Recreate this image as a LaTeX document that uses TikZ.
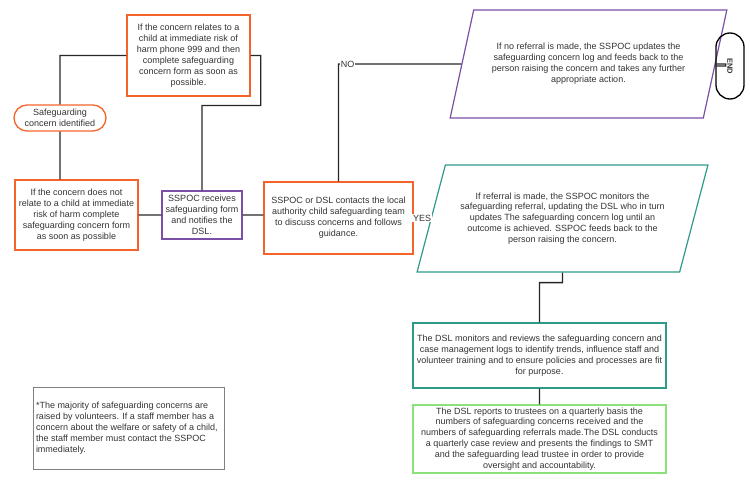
\documentclass[tikz,border=0pt]{standalone}
\usepackage{fontspec}
\setmainfont{Liberation Sans}
\usetikzlibrary{shapes.geometric}
\definecolor{boxorange}{HTML}{F4642A}
\definecolor{boxpurple}{HTML}{7B4FA6}
\definecolor{boxteal}{HTML}{2E9A88}
\definecolor{boxgreen}{HTML}{8BE27A}
\definecolor{txtgray}{HTML}{333333}
\hyphenpenalty=10000
\exhyphenpenalty=10000
\begin{document}
\begin{tikzpicture}
  [x=1pt,y=-1pt,
   every node/.style={font=\fontsize{9}{10.9}\selectfont,text=txtgray,align=flush center,inner xsep=2pt,inner ysep=1pt},
   orangebox/.style={draw=boxorange,line width=1.3pt,rectangle},
   purplebox/.style={draw=boxpurple,line width=1.2pt,rectangle},
   tealbox/.style={draw=boxteal,line width=1.2pt,rectangle},
   greenbox/.style={draw=boxgreen,line width=1.2pt,rectangle},
   notebox/.style={draw=gray,line width=0.8pt,rectangle,align=flush left},
   slantbox/.style={trapezium,trapezium left angle=64,trapezium right angle=116,
     trapezium stretches=true,line width=1.2pt},
   link/.style={draw=black!85,line width=1.3pt},
   tag/.style={fill=white,inner sep=1pt}]
\useasboundingbox (0,0) rectangle (750,492);
% left part
\node (phone)[orangebox,minimum width=123pt,minimum height=81pt,text width=117pt] at (188.5,55.5)
  {If the concern relates to a child at immediate risk of harm phone 999 and then complete safeguarding concern form as soon as possible.};
\node (ident)[draw=boxorange,line width=1.3pt,rounded corners=13pt,minimum width=92pt,minimum height=26pt,text width=80pt] at (60,118)
  {Safeguarding concern identified};
\node (notphone)[orangebox,minimum width=123pt,minimum height=70pt,text width=115.8pt] at (76.5,215)
  {If the concern does not relate to a child at immediate risk of harm complete safeguarding concern form as soon as possible};
\node (recv)[purplebox,minimum width=80pt,minimum height=48pt,text width=75pt] at (202,215)
  {SSPOC receives safeguarding form and notifies the DSL.};
\node (dsl)[orangebox,minimum width=149pt,minimum height=72pt,text width=139pt] at (338.5,218)
  {SSPOC or DSL contacts the local authority child safeguarding team to discuss concerns and follows guidance.};
% right part
\node (noref)[slantbox,draw=boxpurple,minimum width=277pt,minimum height=108pt,text width=201pt] at (588.5,64)
  {If no referral is made, the SSPOC updates the safeguarding concern log and feeds back to the person raising the concern and takes any further appropriate action.};
\node (endnode)[draw=black,line width=1.3pt,rounded corners=14pt,minimum width=28pt,minimum height=66pt] at (730,66)
  {};
\node[rotate=-90,font=\fontsize{7.5}{8}\selectfont\bfseries] at (endnode.center) {END};
\node (ref)[slantbox,draw=boxteal,minimum width=291pt,minimum height=107pt,text width=214pt] at (562.5,218.5)
  {If referral is made, the SSPOC monitors the safeguarding referral, updating the DSL who in turn updates The safeguarding concern log until an outcome is achieved. SSPOC feeds back to the person raising the concern.};
\node (review)[tealbox,minimum width=253pt,minimum height=65pt,text width=249pt] at (539.5,355.5)
  {The DSL monitors and reviews the safeguarding concern and case management logs to identify trends, influence staff and volunteer training and to ensure policies and processes are fit for purpose.};
\node (report)[greenbox,minimum width=253pt,minimum height=68pt,text width=240pt] at (539.5,439)
  {The DSL reports to trustees on a quarterly basis the numbers of safeguarding concerns received and the numbers of safeguarding referrals made.The DSL conducts a quarterly case review and presents the findings to SMT and the safeguarding lead trustee in order to provide oversight and accountability.};
\node (note)[notebox,minimum width=191pt,minimum height=82pt,text width=185pt] at (128.5,428)
  {*The majority of safeguarding concerns are raised by volunteers. If a staff member has a concern about the welfare or safety of a child, the staff member must contact the SSPOC immediately.};
% connectors
\path[link] (ident.north) |- (phone.west)
  (phone.east) -| ++(10,50) -| (recv.north)
  (ident.south) -- (ident.south |- notphone.north)
  (notphone.east) -- (recv.west)
  (recv.east) -- (recv.east -| dsl.west)
  (dsl.north) |- node[tag,pos=0.537]{NO} (noref.west)
  (dsl.east) -- node[tag]{YES} (ref.west)
  (noref.east) -- ++(10,0) -- ++(0,2) -- (endnode.west)
  (ref.south) -- ++(0,10) -| (review.north)
  (review.south) -- (report.north);
\end{tikzpicture}
\end{document}
